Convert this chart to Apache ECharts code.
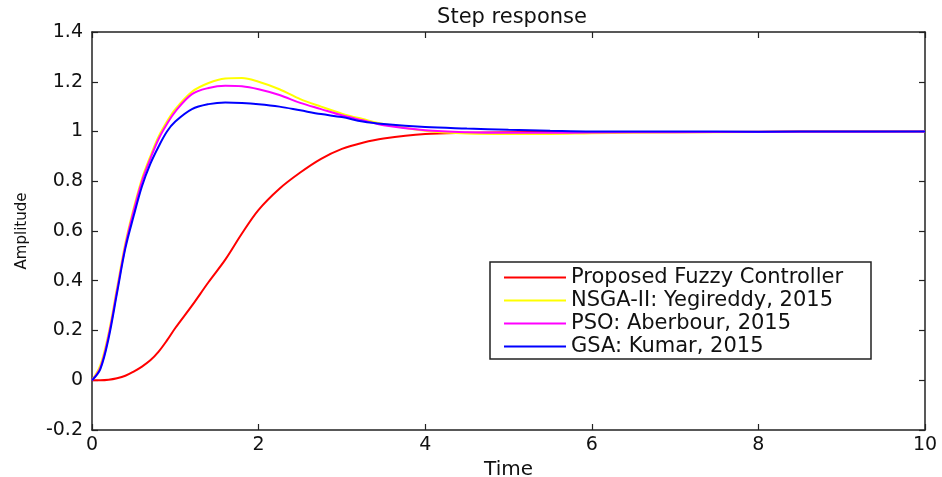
<!DOCTYPE html>
<html>
<head>
<meta charset="utf-8">
<script src="https://cdn.jsdelivr.net/npm/echarts@6/dist/echarts.min.js"></script>
<style>
  html, body { margin: 0; padding: 0; background: #fff; }
  #main { width: 942px; height: 477px; }
</style>
</head>
<body>
<div id="main"></div>
<script>
// time samples (s)
var time = [0, 0.1, 0.2, 0.3, 0.4, 0.5, 0.6, 0.7, 0.8, 0.9, 1.0, 1.2, 1.4, 1.6, 1.8, 2.0,
            2.25, 2.5, 2.75, 3.0, 3.25, 3.5, 4, 4.5, 5, 5.5, 6, 7, 8, 9, 10]

// step responses
var fuzzy = [0, 0.0, 0.002, 0.008, 0.018, 0.035, 0.055, 0.08, 0.115, 0.16, 0.21, 0.30, 0.395, 0.485, 0.59, 0.685,
             0.77, 0.835, 0.89, 0.93, 0.955, 0.972, 0.99, 0.995, 0.997, 0.998, 0.998, 0.998, 0.999, 1.0, 1.0]
var nsga = [0, 0.06, 0.19, 0.37, 0.55, 0.69, 0.81, 0.9, 0.98, 1.04, 1.09, 1.16, 1.195, 1.213, 1.215, 1.2,
            1.17, 1.13, 1.1, 1.072, 1.05, 1.03, 1.003, 0.992, 0.99, 0.99, 0.993, 0.996, 0.998, 0.999, 1.0]
var pso = [0, 0.05, 0.18, 0.36, 0.54, 0.68, 0.8, 0.89, 0.97, 1.03, 1.08, 1.15, 1.175, 1.184, 1.182, 1.17,
           1.147, 1.115, 1.09, 1.065, 1.045, 1.025, 1.005, 0.997, 0.995, 0.995, 0.996, 0.997, 0.998, 0.999, 1.0]
var gsa = [0, 0.045, 0.17, 0.35, 0.53, 0.66, 0.78, 0.87, 0.94, 1.0, 1.04, 1.09, 1.11, 1.117, 1.115, 1.11,
           1.10, 1.085, 1.07, 1.058, 1.04, 1.03, 1.018, 1.012, 1.007, 1.003, 1.0, 1.0, 0.999, 1.0, 1.0]

var names = ['Proposed Fuzzy Controller', 'NSGA-II: Yegireddy, 2015', 'PSO: Aberbour, 2015', 'GSA: Kumar, 2015']
var colors = ['#ff0000', '#ffff00', '#ff00ff', '#0000ff']
var values = [fuzzy, nsga, pso, gsa]

var font = 'DejaVu Sans'

function pairs(arr) {
    return time.map(function (t, i) { return [t, arr[i]] })
}

var boxLine = { show: true, onZero: false, lineStyle: { color: '#222', width: 1.5 } }
var tick = { show: true, inside: true, length: 6, lineStyle: { color: '#222', width: 1.2 } }

var myChart = echarts.init(document.getElementById('main'))
myChart.setOption({
    animation: false,
    backgroundColor: '#fff',
    title: {
        text: 'Step response',
        left: 507,
        textAlign: 'center',
        top: 2,
        textStyle: { fontFamily: font, fontSize: 21, fontWeight: 'normal', color: '#111' }
    },
    legend: {
        data: names,
        orient: 'vertical',
        left: 490,
        top: 262,
        padding: [4, 8, 1, 14],
        icon: 'rect',
        itemWidth: 62,
        itemHeight: 2,
        itemGap: 0,
        borderColor: '#222',
        borderWidth: 1.5,
        backgroundColor: '#fff',
        textStyle: { fontFamily: font, fontSize: 21, color: '#111', lineHeight: 23, width: 292 }
    },
    grid: { left: 92, right: 17, top: 32, bottom: 47, containLabel: false, outerBoundsMode: 'none' },
    xAxis: [{
        type: 'value', min: 0, max: 10, interval: 2, position: 'bottom',
        name: 'Time', nameLocation: 'middle', nameGap: 22,
        nameTextStyle: { fontFamily: font, fontSize: 20, color: '#111' },
        axisLine: boxLine, axisTick: tick, splitLine: { show: false },
        axisLabel: { fontFamily: font, fontSize: 19, color: '#111', margin: 6 }
    }, {
        type: 'value', min: 0, max: 10, interval: 2, position: 'top',
        axisLine: boxLine, axisTick: tick, splitLine: { show: false },
        axisLabel: { show: false }
    }],
    yAxis: [{
        type: 'value', min: -0.2, max: 1.4, interval: 0.2, position: 'left',
        name: 'Amplitude', nameLocation: 'middle', nameGap: 62,
        nameTextStyle: { fontFamily: font, fontSize: 15, color: '#111' },
        axisLine: boxLine, axisTick: tick, splitLine: { show: false },
        axisLabel: { fontFamily: font, fontSize: 19, color: '#111', margin: 9 }
    }, {
        type: 'value', min: -0.2, max: 1.4, interval: 0.2, position: 'right',
        axisLine: boxLine, axisTick: tick, splitLine: { show: false },
        axisLabel: { show: false }
    }],
    series: names.map(function (n, k) {
        return {
            name: n,
            type: 'line',
            data: pairs(values[k]),
            symbol: 'none',
            smooth: 0.35,
            lineStyle: { color: colors[k], width: 2 },
            itemStyle: { color: colors[k] },
            z: 2 + k
        }
    })
})
</script>
</body>
</html>
